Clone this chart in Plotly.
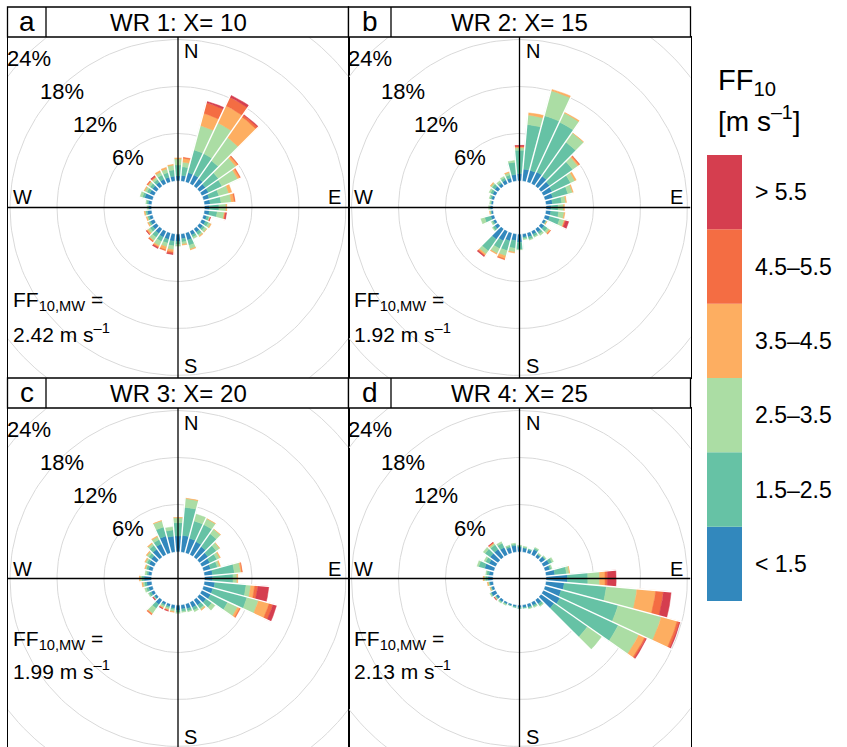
import numpy as np
import plotly.graph_objects as go

# wind direction bins (deg, centre of bin) and FF10 classes
directions = list(range(0, 360, 10))
ff_classes = ['< 1.5', '1.5–2.5', '2.5–3.5', '3.5–4.5', '4.5–5.5', '> 5.5']
ff_colors = ['#3288BD', '#66C2A5', '#ABDDA4', '#FDAE61', '#F46D43', '#D53E4F']

# frequency (%) per direction bin; one row per bin, columns follow ff_classes
wr1 = [
    [0.6, 1.4, 0.8, 0.1, 0, 0],       # 0
    [0.7, 1.1, 0.6, 0.5, 0.1, 0],     # 10
    [1.2, 3.0, 3.2, 1.6, 1.4, 0.2],   # 20
    [1.2, 3.0, 4.3, 2.4, 1.2, 0.3],   # 30
    [1.1, 2.8, 3.6, 3.2, 0.3, 0.1],   # 40
    [0.9, 2.0, 2.7, 0.3, 0.1, 0],     # 50
    [0.9, 1.9, 2.2, 0.3, 0.1, 0],     # 60
    [0.7, 1.3, 1.3, 0.4, 0, 0],       # 70
    [0.7, 1.4, 1.3, 0.4, 0.1, 0],     # 80
    [0.6, 1.2, 0.9, 0.1, 0, 0],       # 90
    [0.6, 1.0, 0.9, 0.1, 0.1, 0.1],   # 100
    [0.4, 0.3, 0.1, 0.05, 0, 0.05],   # 110
    [0.5, 0.4, 0.3, 0.1, 0, 0],       # 120
    [0.5, 0.3, 0.3, 0.05, 0, 0],      # 130
    [0.5, 0.4, 0.2, 0.1, 0, 0],       # 140
    [0.5, 0.3, 0.2, 0, 0, 0],         # 150
    [0.9, 0.7, 0.5, 0.1, 0, 0],       # 160
    [0.6, 0.4, 0.3, 0.1, 0, 0],       # 170
    [0.9, 0.4, 0.2, 0, 0, 0],         # 180
    [0.9, 0.6, 0.5, 0.3, 0.2, 0.1],   # 190
    [0.8, 0.5, 0.5, 0.4, 0.1, 0],     # 200
    [0.8, 0.6, 0.6, 0.2, 0.1, 0.1],   # 210
    [0.7, 0.6, 0.5, 0.1, 0.1, 0],     # 220
    [0.6, 0.4, 0.3, 0.2, 0.05, 0.05], # 230
    [0.5, 0.2, 0.1, 0.1, 0, 0],       # 240
    [0.4, 0.2, 0.1, 0.1, 0, 0],       # 250
    [0.5, 0.2, 0.1, 0.1, 0, 0],       # 260
    [0.3, 0.1, 0.1, 0, 0, 0],         # 270
    [0.4, 0.2, 0.1, 0, 0, 0],         # 280
    [1.0, 0.3, 0.3, 0, 0, 0],         # 290
    [0.6, 0.4, 0.3, 0.1, 0, 0],       # 300
    [0.6, 0.4, 0.3, 0.1, 0.1, 0],     # 310
    [0.6, 0.4, 0.3, 0.1, 0.1, 0.1],   # 320
    [0.6, 0.6, 0.4, 0.2, 0, 0],       # 330
    [0.6, 0.6, 0.5, 0.2, 0, 0],       # 340
    [0.6, 0.8, 0.6, 0.1, 0, 0],       # 350
]

wr2 = [
    [0.9, 3.0, 0.3, 0.1, 0.1, 0.1],   # 0
    [1.5, 5.7, 1.2, 0.3, 0, 0],       # 10
    [1.5, 7.2, 3.3, 0.2, 0, 0],       # 20
    [1.6, 7.0, 1.3, 0.1, 0, 0],       # 30
    [1.5, 5.3, 1.4, 0.05, 0, 0],      # 40
    [1.3, 3.6, 0.8, 0.2, 0.1, 0],     # 50
    [1.2, 2.6, 0.6, 0.2, 0, 0],       # 60
    [1.0, 2.0, 0.6, 0.1, 0, 0],       # 70
    [0.8, 1.2, 0.5, 0.1, 0, 0],       # 80
    [0.6, 0.9, 0.7, 0.1, 0, 0],       # 90
    [0.6, 1.0, 0.7, 0.1, 0, 0],       # 100
    [0.6, 1.3, 0.6, 0.1, 0.1, 0.4],   # 110
    [0.3, 0.1, 0.05, 0.05, 0, 0],     # 120
    [0.5, 0.5, 0.3, 0.15, 0.05, 0],   # 130
    [0.5, 0.3, 0.2, 0, 0, 0],         # 140
    [0.4, 0.3, 0.1, 0, 0, 0],         # 150
    [0.5, 0.3, 0.1, 0, 0, 0],         # 160
    [0.4, 0.2, 0.1, 0, 0, 0],         # 170
    [1.0, 0.9, 0.05, 0, 0, 0],        # 180
    [0.8, 1.0, 0.5, 0.1, 0, 0],       # 190
    [1.0, 1.3, 0.7, 0.4, 0.1, 0],     # 200
    [1.3, 1.1, 0.7, 0.1, 0, 0],       # 210
    [1.6, 1.8, 0.5, 0.2, 0.1, 0.1],   # 220
    [0.5, 0.3, 0.1, 0, 0, 0],         # 230
    [0.3, 0.2, 0.1, 0, 0, 0],         # 240
    [0.4, 0.8, 0.5, 0, 0, 0],         # 250
    [0.2, 0.1, 0.05, 0.05, 0, 0],     # 260
    [0.3, 0.1, 0.1, 0, 0, 0],         # 270
    [0.2, 0.1, 0.1, 0, 0, 0],         # 280
    [0.3, 0.2, 0.1, 0, 0, 0],         # 290
    [0.4, 0.3, 0.2, 0, 0, 0],         # 300
    [0.5, 0.4, 0.2, 0.1, 0, 0],       # 310
    [0.4, 0.2, 0.2, 0, 0, 0],         # 320
    [0.5, 0.3, 0.2, 0, 0, 0],         # 330
    [0.5, 0.4, 0.3, 0.1, 0, 0],       # 340
    [0.8, 1.6, 0.2, 0, 0, 0],         # 350
]

wr3 = [
    [2.0, 1.7, 0.6, 0.05, 0, 0],      # 0
    [2.1, 3.6, 1.1, 0.05, 0, 0],      # 10
    [1.9, 2.3, 0.9, 0, 0, 0],         # 20
    [1.8, 2.4, 0.8, 0.05, 0, 0],      # 30
    [1.6, 2.0, 0.7, 0.05, 0, 0],      # 40
    [1.3, 1.3, 0.5, 0.05, 0, 0],      # 50
    [1.1, 1.0, 0.4, 0.1, 0, 0],       # 60
    [0.9, 0.9, 0.3, 0.1, 0, 0],       # 70
    [1.0, 2.8, 0.8, 0.15, 0.05, 0],   # 80
    [1.0, 2.6, 0.5, 0.1, 0, 0],       # 90
    [1.3, 4.0, 0.6, 0.5, 0.4, 1.4],   # 100
    [1.2, 4.5, 1.5, 1.4, 0.5, 0.5],   # 110
    [1.2, 2.4, 1.4, 0.3, 0.1, 0],     # 120
    [1.0, 0.9, 0.5, 0, 0, 0],         # 130
    [0.8, 0.5, 0.2, 0.1, 0, 0],       # 140
    [0.7, 0.4, 0.2, 0, 0, 0],         # 150
    [0.6, 0.3, 0.1, 0, 0, 0],         # 160
    [0.5, 0.3, 0.1, 0, 0, 0],         # 170
    [0.6, 0.3, 0.1, 0, 0, 0],         # 180
    [0.4, 0.2, 0.2, 0.1, 0, 0],       # 190
    [0.3, 0.2, 0.2, 0.1, 0.05, 0.05], # 200
    [0.3, 0.2, 0.2, 0.1, 0.05, 0.05], # 210
    [0.7, 0.6, 0.8, 0.1, 0.1, 0],     # 220
    [0.3, 0.1, 0.1, 0, 0, 0.1],       # 230
    [0.4, 0.3, 0.1, 0, 0, 0],         # 240
    [0.5, 0.3, 0.2, 0, 0, 0],         # 250
    [0.6, 0.3, 0.2, 0.1, 0, 0],       # 260
    [0.9, 0.3, 0.2, 0.1, 0, 0],       # 270
    [0.4, 0.2, 0.2, 0, 0, 0],         # 280
    [0.5, 0.3, 0.1, 0.1, 0, 0],       # 290
    [0.7, 0.3, 0.2, 0.1, 0, 0],       # 300
    [0.8, 0.4, 0.3, 0.1, 0, 0],       # 310
    [1.2, 0.6, 0.3, 0.1, 0, 0],       # 320
    [1.5, 0.6, 0.4, 0.1, 0, 0],       # 330
    [2.2, 1.2, 0.8, 0.05, 0, 0],      # 340
    [2.0, 0.8, 0.4, 0, 0, 0],         # 350
]

wr4 = [
    [0.6, 0.15, 0.05, 0, 0, 0],       # 0
    [0.5, 0.1, 0.1, 0, 0, 0],         # 10
    [0.4, 0.1, 0, 0, 0, 0],           # 20
    [0.7, 0.2, 0.1, 0, 0, 0],         # 30
    [0.4, 0.1, 0.1, 0, 0, 0],         # 40
    [0.6, 0.1, 0.1, 0, 0, 0],         # 50
    [0.8, 0.4, 0.2, 0, 0, 0],         # 60
    [0.6, 0.2, 0.1, 0, 0, 0],         # 70
    [1.1, 1.5, 0.35, 0.05, 0, 0],     # 80
    [2.7, 2.6, 1.5, 0.7, 0.3, 1.1],   # 90
    [2.3, 5.4, 3.9, 2.4, 1.0, 1.0],   # 100
    [2.1, 7.5, 5.7, 2.1, 0.3, 0.1],   # 110
    [2.3, 8.2, 2.9, 0.8, 0.2, 0.1],   # 120
    [2.0, 5.2, 2.2, 0, 0, 0],         # 130
    [0.6, 0.3, 0.1, 0, 0, 0],         # 140
    [0.4, 0.2, 0.1, 0, 0, 0],         # 150
    [0.4, 0.15, 0.05, 0, 0, 0],       # 160
    [0.3, 0.1, 0, 0, 0, 0],           # 170
    [0.3, 0.1, 0, 0, 0, 0],           # 180
    [0.2, 0.1, 0, 0, 0, 0],           # 190
    [0.15, 0.05, 0, 0, 0, 0],         # 200
    [0.2, 0.1, 0.1, 0, 0, 0],         # 210
    [0.3, 0.1, 0.1, 0, 0, 0],         # 220
    [0.3, 0.1, 0.1, 0.05, 0, 0.05],   # 230
    [0.6, 0.1, 0.1, 0, 0, 0],         # 240
    [0.3, 0.1, 0.05, 0.05, 0, 0],     # 250
    [0.4, 0.1, 0.1, 0.1, 0, 0],       # 260
    [0.6, 0.3, 0.2, 0.1, 0, 0],       # 270
    [0.5, 0.3, 0.1, 0, 0, 0],         # 280
    [1.2, 0.8, 0.2, 0, 0, 0],         # 290
    [0.9, 0.5, 0.2, 0, 0, 0],         # 300
    [1.2, 0.8, 0.3, 0, 0, 0],         # 310
    [1.2, 0.7, 0.2, 0.1, 0.05, 0.05], # 320
    [1.0, 0.6, 0.2, 0, 0, 0],         # 330
    [0.7, 0.2, 0.1, 0, 0, 0],         # 340
    [0.8, 0.2, 0.1, 0, 0, 0],         # 350
]

roses = [wr1, wr2, wr3, wr4]
titles = ['WR 1: X= 10', 'WR 2: X= 15', 'WR 3: X= 20', 'WR 4: X= 25']
letters = ['a', 'b', 'c', 'd']
ff_mean = ['2.42', '1.92', '1.99', '2.13']
rings = [6, 12, 18, 24]

W, H = 847, 747
PX = 7.83          # pixels per 1 %
OFF = 27 / PX      # radius of the empty centre, in % units
FONT = 'Liberation Sans, Arial, sans-serif'

# panel boxes in pixels: left, right, top, bottom (bottom row runs off the page)
boxes = [(7.5, 348.5, 37, 378), (348.5, 690.5, 37, 378),
         (7.5, 348.5, 408, 749), (348.5, 690.5, 408, 749)]
strip_h = 30
letter_w = [38.5, 42.5, 38.5, 42.5]
ff_y = [(301, 333), (301, 333), (639.5, 669.5), (639.5, 669.5)]


def fx(x):
    return x / W


def fy(y):
    return 1 - y / H


def label(x, y, text, size, xanchor='center', xref='paper', yref='paper'):
    return dict(x=x, y=y, xref=xref, yref=yref, text=text, showarrow=False,
                xanchor=xanchor, yanchor='middle', font=dict(size=size))


def wedge(ang, r0, r1):
    a = np.radians(np.linspace(ang - 5, ang + 5, 7))
    xs = list(r1 * np.sin(a)) + list(r0 * np.sin(a[::-1]))
    ys = list(r1 * np.cos(a)) + list(r0 * np.cos(a[::-1]))
    return xs + [xs[0], None], ys + [ys[0], None]


fig = go.Figure()
axes = {}
shapes = []
annotations = []

axis_style = dict(showline=True, mirror=True, linecolor='black', linewidth=1.3,
                  showgrid=False, zeroline=False, showticklabels=False,
                  ticks='', fixedrange=True)

t = np.radians(np.arange(0, 361, 2))

for i, rose in enumerate(roses):
    left, right, top, bottom = boxes[i]
    cx, cy = (left + right) / 2, (top + bottom) / 2
    vis_bottom = min(bottom, H)
    hx = (right - left) / 2 / PX
    y_lo = -(vis_bottom - cy) / PX
    y_hi = (cy - top) / PX
    sfx = '' if i == 0 else str(i + 1)
    xa, ya = 'x' + sfx, 'y' + sfx
    axes['xaxis' + sfx] = dict(axis_style, domain=[fx(left), fx(right)],
                               range=[-hx, hx], anchor=ya)
    axes['yaxis' + sfx] = dict(axis_style, domain=[fy(vis_bottom), fy(top)],
                               range=[y_lo, y_hi], anchor=xa)

    # grey percentage rings
    for p in rings:
        r = OFF + p
        fig.add_trace(go.Scatter(x=r * np.sin(t), y=r * np.cos(t), mode='lines',
                                 line=dict(color='#D9D9D9', width=1),
                                 xaxis=xa, yaxis=ya, hoverinfo='skip'))

    # stacked wedges, one trace per speed class
    totals = [sum(row) for row in rose]
    for k in range(len(ff_classes)):
        xs, ys = [], []
        for j, d in enumerate(directions):
            v = rose[j][k]
            if v <= 0:
                continue
            r0 = OFF + sum(rose[j][:k])
            px_, py_ = wedge(d, r0, r0 + v)
            xs += px_
            ys += py_
        fig.add_trace(go.Scatter(x=xs, y=ys, mode='lines', fill='toself',
                                 fillcolor=ff_colors[k],
                                 line=dict(color=ff_colors[k], width=0.5),
                                 xaxis=xa, yaxis=ya, hoverinfo='skip'))

    # white borders between neighbouring bars
    xs, ys = [], []
    for j, d in enumerate(directions):
        n = (j + 1) % len(directions)
        r1 = OFF + max(totals[j], totals[n]) + 0.3
        a = np.radians(d + 5)
        xs += [OFF * 0.97 * np.sin(a), r1 * np.sin(a), None]
        ys += [OFF * 0.97 * np.cos(a), r1 * np.cos(a), None]
    fig.add_trace(go.Scatter(x=xs, y=ys, mode='lines',
                             line=dict(color='white', width=1.4),
                             xaxis=xa, yaxis=ya, hoverinfo='skip'))

    # N-S / E-W cross
    fig.add_trace(go.Scatter(x=[-hx, hx, None, 0, 0], y=[0, 0, None, y_lo, y_hi],
                             mode='lines', line=dict(color='black', width=1.3),
                             xaxis=xa, yaxis=ya, hoverinfo='skip'))

    # percentage labels along the NW diagonal
    for p in rings:
        r = (OFF + p - 0.45) / np.sqrt(2)
        annotations.append(label(-r, r, f'{p}%', 22, xref=xa, yref=ya))

    # compass letters
    annotations += [
        label(fx(cx + 4), fy(top + 14.5), 'N', 20, 'left'),
        label(fx(cx + 4), fy(bottom - 12.5), 'S', 20, 'left'),
        label(fx(right - 6), fy(cy - 10), 'E', 20, 'right'),
        label(fx(left + 3), fy(cy - 10), 'W', 20, 'left'),
    ]

    # mean wind speed text
    annotations.append(label(fx(left + 3), fy(ff_y[i][0]), 'FF<sub>10,MW</sub> =', 21, 'left'))
    annotations.append(label(fx(left + 3), fy(ff_y[i][1]),
                             f'{ff_mean[i]} m s<sup>–1</sup>', 21, 'left'))

    # strip on top of the panel
    shapes.append(dict(type='rect', xref='paper', yref='paper',
                       x0=fx(left), x1=fx(right), y0=fy(top), y1=fy(top - strip_h),
                       line=dict(color='black', width=1.3), fillcolor='white'))
    shapes.append(dict(type='line', xref='paper', yref='paper',
                       x0=fx(left + letter_w[i]), x1=fx(left + letter_w[i]),
                       y0=fy(top), y1=fy(top - strip_h),
                       line=dict(color='black', width=1.3)))
    annotations.append(label(fx(left + letter_w[i] / 2), fy(top - strip_h / 2 - 1),
                             letters[i], 28))
    annotations.append(label(fx(cx), fy(top - strip_h / 2), titles[i], 24))

# legend: colour blocks with class labels, largest class on top
leg_top, leg_bot = 155, 601
block = (leg_bot - leg_top) / len(ff_classes)
for k, (lab, col) in enumerate(zip(ff_classes, ff_colors)):
    y1 = leg_bot - k * block
    y0 = y1 - block
    shapes.append(dict(type='rect', xref='paper', yref='paper',
                       x0=fx(707), x1=fx(742), y0=fy(y1), y1=fy(y0),
                       line=dict(width=0), fillcolor=col))
    annotations.append(label(fx(753), fy((y0 + y1) / 2), lab, 23, 'left'))
annotations.append(label(fx(716), fy(82), 'FF<sub>10</sub>', 29, 'left'))
annotations.append(label(fx(716), fy(119), '[m s<sup>–1</sup>]', 28, 'left'))

fig.update_layout(
    width=W, height=H,
    margin=dict(l=0, r=0, t=0, b=0, pad=0),
    paper_bgcolor='white', plot_bgcolor='white',
    showlegend=False,
    font=dict(family=FONT, color='black'),
    shapes=shapes,
    annotations=annotations,
    **axes,
)

# drop the browser's default body margin so the figure sits at the page corner
fig.write_html('out.html', config={'displayModeBar': False},
               post_script="document.body.style.margin='0';")
